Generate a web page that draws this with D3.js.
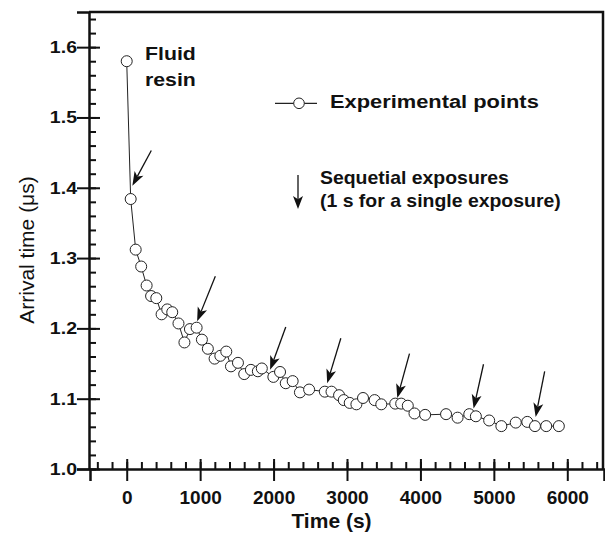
<!DOCTYPE html>
<meta charset="utf-8">
<style>
    body { margin: 0; background: #fff; }
    text { font-family: "Liberation Sans", Arial, sans-serif; fill: #111; }
    .axis path, .axis line { stroke: #111; }
</style>
<svg id="mainSVG" width="605" height="541"></svg>
<script src="https://d3js.org/d3.v7.min.js"></script>
<script>
    // measured points (time in s, arrival time in microseconds)
    var timeS = [0, 54, 122, 197, 271, 332, 403, 475, 552, 620, 705, 786, 861, 952, 1024,
        1105, 1197, 1275, 1356, 1420, 1515, 1600, 1691, 1786, 1840, 1997, 2088, 2166, 2260,
        2359, 2484, 2698, 2789, 2892, 2956, 3037, 3128, 3218, 3376, 3467, 3657, 3738, 3828,
        3919, 4064, 4349, 4506, 4665, 4755, 4936, 5102, 5298, 5455, 5560, 5713, 5885];
    var arrival = [1.580, 1.384, 1.312, 1.288, 1.261, 1.246, 1.243, 1.220, 1.227, 1.223,
        1.207, 1.180, 1.199, 1.201, 1.184, 1.171, 1.157, 1.161, 1.167, 1.146, 1.151, 1.135,
        1.141, 1.139, 1.143, 1.131, 1.138, 1.122, 1.125, 1.109, 1.113, 1.110, 1.110, 1.105,
        1.098, 1.094, 1.092, 1.101, 1.098, 1.092, 1.093, 1.093, 1.090, 1.079, 1.077, 1.078,
        1.073, 1.078, 1.075, 1.069, 1.061, 1.066, 1.067, 1.061, 1.061, 1.061];

    // exposure arrows: tip and tail in data units
    var exposureTipT = [77, 959, 1953, 2730, 3685, 4724, 5569];
    var exposureTipY = [1.403, 1.210, 1.141, 1.122, 1.101, 1.086, 1.074];
    var exposureTailT = [335, 1207, 2166, 2916, 3851, 4859, 5692];
    var exposureTailY = [1.453, 1.274, 1.202, 1.186, 1.164, 1.149, 1.139];

    var xMajor = [0, 1000, 2000, 3000, 4000, 5000, 6000];
    var yMajor = [1.0, 1.1, 1.2, 1.3, 1.4, 1.5, 1.6];
    var xMinor = d3.range(-400, 6500, 200);
    var yMinor = d3.range(1.0, 1.65, 0.02);

    var svg = d3.select("svg");
    var plotLeft = 89, plotRight = 603, plotTop = 12, plotBottom = 469;

    var x = d3.scaleLinear().domain([-500, 6500]).range([90, 604]);
    var y = d3.scaleLinear().domain([1.0, 1.65]).range([plotBottom, plotTop]);

    // frame top / right
    svg.append("path")
        .attr("d", "M" + plotLeft + "," + plotTop + "H" + plotRight + "V" + plotBottom)
        .attr("fill", "none").attr("stroke", "#111").attr("stroke-width", 2.5);

    // y axis
    var yOut = svg.append("g").attr("class", "axis").attr("transform", "translate(" + plotLeft + ",0)")
        .call(d3.axisLeft(y).tickValues(yMajor).tickSize(12).tickPadding(3).tickFormat(d3.format(".1f")));
    yOut.select(".domain").attr("stroke-width", 2.5);
    yOut.selectAll(".tick line").attr("stroke-width", 2);
    yOut.selectAll(".tick text")
        .style("font-size", "17px").style("font-weight", "bold")
        .attr("x", -12 / 1.15).attr("transform", "scale(1.15,1)");
    svg.append("g").attr("class", "axis").attr("transform", "translate(" + plotLeft + ",0)")
        .call(d3.axisRight(y).tickValues(yMajor).tickSize(11).tickFormat(""))
        .call(function (g) { g.select(".domain").remove(); g.selectAll("line").attr("stroke-width", 2); });
    svg.append("g").attr("class", "axis").attr("transform", "translate(" + plotLeft + ",0)")
        .call(d3.axisRight(y).tickValues(yMinor).tickSize(7).tickFormat(""))
        .call(function (g) { g.select(".domain").remove(); g.selectAll("line").attr("stroke-width", 2); });

    // x axis
    var xOut = svg.append("g").attr("class", "axis").attr("transform", "translate(0," + plotBottom + ")")
        .call(d3.axisBottom(x).tickValues(xMajor).tickSize(12).tickFormat(d3.format("d")));
    xOut.select(".domain").attr("stroke-width", 2.5);
    xOut.selectAll(".tick line").attr("stroke-width", 2);
    xOut.selectAll(".tick text")
        .style("font-size", "19px").style("font-weight", "bold").attr("y", 22);
    svg.append("g").attr("class", "axis").attr("transform", "translate(0," + plotBottom + ")")
        .call(d3.axisTop(x).tickValues(xMajor).tickSize(10).tickFormat(""))
        .call(function (g) { g.select(".domain").remove(); g.selectAll("line").attr("stroke-width", 2); });
    svg.append("g").attr("class", "axis").attr("transform", "translate(0," + plotBottom + ")")
        .call(d3.axisTop(x).tickValues(xMinor).tickSize(7).tickFormat(""))
        .call(function (g) { g.select(".domain").remove(); g.selectAll("line").attr("stroke-width", 2); });

    // axis titles
    svg.append("text").attr("x", 331.5).attr("y", 528).attr("text-anchor", "middle")
        .style("font-size", "21px").style("font-weight", "bold").text("Time (s)");
    svg.append("text").attr("transform", "translate(33.5,250) rotate(-90)").attr("text-anchor", "middle")
        .style("font-size", "21px").text("Arrival time (\u03bcs)");

    // data line + open circles
    var points = timeS.map(function (t, i) { return [t, arrival[i]]; });
    svg.append("path")
        .datum(points)
        .attr("fill", "none").attr("stroke", "#222").attr("stroke-width", 1)
        .attr("d", d3.line().x(function (d) { return x(d[0]); }).y(function (d) { return y(d[1]); }));
    svg.append("g").selectAll("circle")
        .data(points)
        .enter().append("circle")
        .attr("cx", function (d) { return x(d[0]); })
        .attr("cy", function (d) { return y(d[1]); })
        .attr("r", 5.5)
        .attr("fill", "#fff").attr("stroke", "#222").attr("stroke-width", 1);

    // arrow helper, pixel coords
    function arrow(g, x1, y1, x2, y2, len, half) {
        var dx = x2 - x1, dy = y2 - y1, l = Math.sqrt(dx * dx + dy * dy);
        var ux = dx / l, uy = dy / l, px = -uy, py = ux;
        var bx = x2 - ux * len, by = y2 - uy * len;
        var nx = x2 - ux * len * 0.75, ny = y2 - uy * len * 0.75;
        g.append("line").attr("x1", x1).attr("y1", y1).attr("x2", nx).attr("y2", ny)
            .attr("stroke", "#111").attr("stroke-width", 1.3);
        g.append("path")
            .attr("d", "M" + x2 + "," + y2 + "L" + (bx + px * half) + "," + (by + py * half) +
                "L" + nx + "," + ny + "L" + (bx - px * half) + "," + (by - py * half) + "Z")
            .attr("fill", "#111");
    }

    var arrows = svg.append("g");
    exposureTipT.forEach(function (t, i) {
        arrow(arrows, x(exposureTailT[i]), y(exposureTailY[i]), x(t), y(exposureTipY[i]), 14, 5);
    });

    // annotations
    function label(xp, yp, size, sx, str) {
        svg.append("text").attr("transform", "translate(" + xp + "," + yp + ") scale(" + sx + ",1)")
            .style("font-size", size + "px").style("font-weight", "bold").text(str);
    }
    label(145, 60, 19, 1.12, "Fluid");
    label(145, 86, 19, 1.12, "resin");

    // legend
    svg.append("line").attr("x1", 275).attr("x2", 317).attr("y1", 103.3).attr("y2", 103.3)
        .attr("stroke", "#222").attr("stroke-width", 1.2);
    svg.append("circle").attr("cx", 299).attr("cy", 103.3).attr("r", 5.3)
        .attr("fill", "#fff").attr("stroke", "#222").attr("stroke-width", 1);
    label(330, 107.5, 19, 1.15, "Experimental points");
    arrow(svg.append("g"), 298, 175, 298, 209, 13, 5);
    label(320, 184, 18, 1.08, "Sequetial exposures");
    label(320, 207, 18, 1.08, "(1 s for a single exposure)");
</script>
